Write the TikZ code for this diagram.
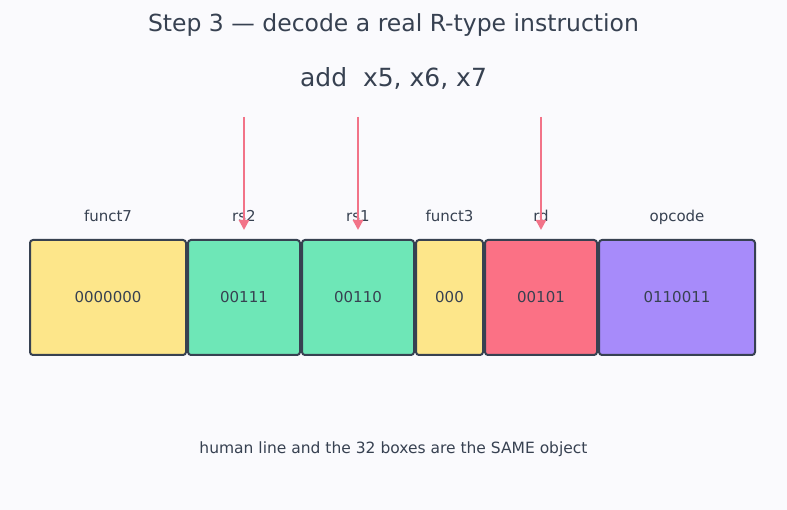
\documentclass[tikz,border=0pt]{standalone}
\usepackage{fontspec}
\setmainfont{DejaVu Sans}
\usetikzlibrary{arrows.meta}
\definecolor{bg}{HTML}{FAFAFD}
\definecolor{ink}{HTML}{374151}
\definecolor{edge}{HTML}{374151}
\definecolor{cyellow}{HTML}{FDE68A}
\definecolor{cgreen}{HTML}{6EE7B7}
\definecolor{cred}{HTML}{FB7185}
\definecolor{cviolet}{HTML}{A78BFA}
\definecolor{arrowc}{HTML}{F27388}
\tikzset{
  field/.style={draw=edge, line width=2pt, rounded corners=3pt, minimum height=115pt, inner sep=0pt, text=ink, font=\fontsize{15}{18}\selectfont},
  flabel/.style={text=ink, font=\fontsize{15}{18}\selectfont, inner sep=0pt, anchor=base},
  pointer/.style={draw=arrowc, line width=2.7pt, -{Triangle[length=10pt,width=10pt]}},
}
\begin{document}
\begin{tikzpicture}[x=1pt,y=-1pt]
\fill[bg] (0,0) rectangle (787,510);
\useasboundingbox (0,0) rectangle (787,510);
\node[text=ink, font=\fontsize{23.5}{28}\selectfont] (title) at (393.5,25) {Step 3 — decode a real R-type instruction};
\node[text=ink, font=\fontsize{25}{30}\selectfont] (instr) at (393.5,78) {add\ \ x5, x6, x7};

\node[field, fill=cyellow, minimum width=156pt] (f7) at (108,297.5) {0000000};
\node[field, fill=cgreen, minimum width=112pt] (rs2) at (244,297.5) {00111};
\node[field, fill=cgreen, minimum width=112pt] (rs1) at (358,297.5) {00110};
\node[field, fill=cyellow, minimum width=67pt] (f3) at (449.5,297.5) {000};
\node[field, fill=cred, minimum width=112pt] (rd) at (541,297.5) {00101};
\node[field, fill=cviolet, minimum width=156pt] (op) at (677,297.5) {0110011};

\node[flabel] (lf7) at (108,221.5) {funct7};
\node[flabel] (lrs2) at (244,221.5) {rs2};
\node[flabel] (lrs1) at (358,221.5) {rs1};
\node[flabel] (lf3) at (449.5,221.5) {funct3};
\node[flabel] (lrd) at (541,221.5) {rd};
\node[flabel] (lop) at (677,221.5) {opcode};

\coordinate (s2) at (244,117); \coordinate (e2) at (244,230);
\coordinate (s1) at (358,117); \coordinate (e1) at (358,230);
\coordinate (sd) at (541,117); \coordinate (ed) at (541,230);
\draw[pointer] (s2) -- (e2);
\draw[pointer] (s1) -- (e1);
\draw[pointer] (sd) -- (ed);

\node[text=ink, font=\fontsize{15.5}{18}\selectfont] (foot) at (393.5,449) {human line and the 32 boxes are the SAME object};
\end{tikzpicture}
\end{document}
